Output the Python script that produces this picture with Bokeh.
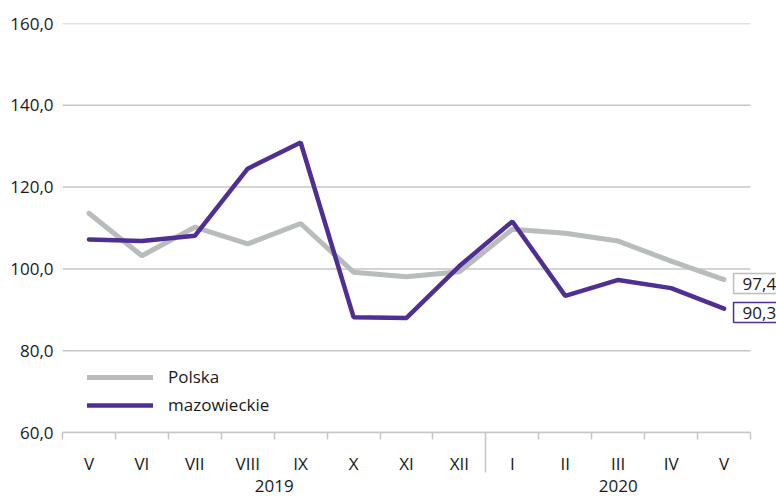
from bokeh.plotting import figure
from bokeh.models import (Range1d, FixedTicker, LinearAxis, Label, Legend,
                          LegendItem, CustomJSTickFormatter)
from bokeh.embed import file_html
from bokeh.resources import INLINE

months = ["V", "VI", "VII", "VIII", "IX", "X", "XI", "XII", "I", "II", "III", "IV", "V"]
years = ["2019", "2020"]
year_counts = [8, 5]
polska = [113.6, 103.2, 110.2, 106.1, 111.1, 99.2, 98.1, 99.3, 109.7, 108.7, 106.8, 101.9, 97.4]
mazowieckie = [107.2, 106.8, 108.1, 124.5, 130.9, 88.2, 88.0, 100.7, 111.6, 93.4, 97.3, 95.3, 90.3]
y_ticks = [60, 80, 100, 120, 140, 160]
y_labels = ["60,0", "80,0", "100,0", "120,0", "140,0", "160,0"]

FONT = "Open Sans"
FS = "17px"
GREY = "#b9bcbc"
PURPLE = "#4f2f93"
GRID = "#c6c6c6"
TEXT = "#1a1a1a"

W, H = 776, 496
LEFT, RIGHT_PLOT, TOP, BOTTOM = 62, 750, 23, 432

n = len(months)
xs = [i + 0.5 for i in range(n)]
bounds = list(range(n + 1))
year_centers = []
year_seps = []
start = 0
for c in year_counts:
    year_centers.append(start + c / 2)
    start += c
    if start < n:
        year_seps.append(start)

x_end = n * (W - LEFT) / (RIGHT_PLOT - LEFT)

p = figure(width=W, height=H, output_backend="svg", toolbar_location=None,
           x_range=Range1d(0, x_end), y_range=Range1d(60, 160),
           min_border_left=LEFT, min_border_right=0, min_border_top=TOP,
           min_border_bottom=H - BOTTOM, x_axis_type=None)
p.outline_line_color = None
p.background_fill_color = "white"

# y axis
ya = p.yaxis[0]
ya.ticker = FixedTicker(ticks=y_ticks)
ya.formatter = CustomJSTickFormatter(args=dict(vals=y_ticks, labels=y_labels),
    code="const i = vals.indexOf(tick); return i >= 0 ? labels[i] : '';")
ya.axis_line_color = None
ya.major_tick_line_color = None
ya.minor_tick_line_color = None
ya.major_tick_out = 0
ya.major_label_standoff = 9
ya.major_label_text_font = FONT
ya.major_label_text_font_size = FS
ya.major_label_text_color = TEXT

p.ygrid.grid_line_color = None
# horizontal grid lines limited to the category span
p.segment(x0=[0] * len(y_ticks), x1=[n] * len(y_ticks), y0=y_ticks, y1=y_ticks,
          line_color=GRID, line_width=1.5, level="underlay")

# month axis
ax = LinearAxis(ticker=FixedTicker(ticks=xs, minor_ticks=bounds),
                formatter=CustomJSTickFormatter(args=dict(vals=xs, labels=months),
                    code="const i = vals.indexOf(tick); return i >= 0 ? labels[i] : '';"),
                bounds=(0, n))
ax.axis_line_color = GRID
ax.axis_line_width = 1.5
ax.major_tick_line_color = None
ax.major_tick_out = 7
ax.major_tick_in = 0
ax.minor_tick_line_color = GRID
ax.minor_tick_line_width = 1.5
ax.minor_tick_out = 7
ax.minor_tick_in = 0
ax.major_label_standoff = 12
ax.major_label_text_font = FONT
ax.major_label_text_font_size = FS
ax.major_label_text_color = TEXT
p.add_layout(ax, "below")

# year axis
ax2 = LinearAxis(ticker=FixedTicker(ticks=year_centers, minor_ticks=year_seps),
                 formatter=CustomJSTickFormatter(args=dict(vals=year_centers, labels=years),
                    code="const i = vals.indexOf(tick); return i >= 0 ? labels[i] : '';"),
                 bounds=(0, n))
ax2.axis_line_color = None
ax2.major_tick_line_color = None
ax2.major_tick_out = 0
ax2.major_tick_in = 0
ax2.minor_tick_line_color = GRID
ax2.minor_tick_line_width = 1.5
ax2.minor_tick_in = 39
ax2.minor_tick_out = -5
ax2.major_label_standoff = 2
ax2.major_label_text_font = FONT
ax2.major_label_text_font_size = FS
ax2.major_label_text_color = TEXT
p.add_layout(ax2, "below")

r1 = p.line(xs, polska, line_color=GREY, line_width=5, line_cap="round")
r2 = p.line(xs, mazowieckie, line_color=PURPLE, line_width=4.5, line_cap="round")

legend = Legend(items=[LegendItem(label="Polska", renderers=[r1]),
                       LegendItem(label="mazowieckie", renderers=[r2])],
                location=(25, 16), glyph_width=66, glyph_height=20, label_height=20,
                spacing=5, padding=0, margin=0, label_standoff=15,
                border_line_color=None, background_fill_alpha=0,
                label_text_font=FONT, label_text_font_size=FS,
                label_text_color=TEXT)
p.add_layout(legend)

def fmt(v):
    return f"{v:.1f}".replace(".", ",")

for vals, col in ((polska, "#bdbdbd"), (mazowieckie, PURPLE)):
    p.add_layout(Label(x=xs[-1], y=vals[-1], text=fmt(vals[-1]), x_offset=9.5, y_offset=-4,
                       text_align="left", text_baseline="middle", text_font=FONT,
                       text_font_size=FS, text_color=TEXT,
                       background_fill_color="white", border_line_color=col,
                       border_line_width=1.5,
                       padding=dict(left=9, right=9, top=4, bottom=4)))

open("out.html", "w").write(file_html(p, INLINE))
